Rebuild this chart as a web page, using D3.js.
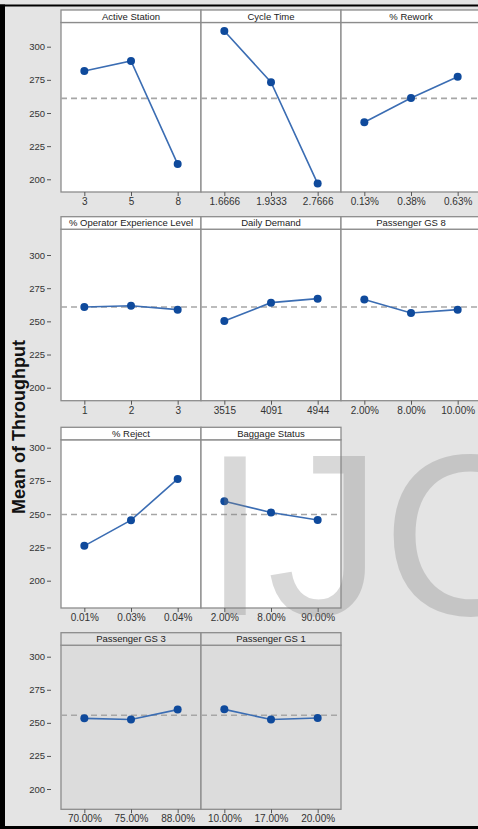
<!DOCTYPE html>
<html>
<head>
<meta charset="utf-8">
<script src="https://cdn.jsdelivr.net/npm/d3@7"></script>
<style>
  body { margin: 0; background: #e4e4e4; }
  svg { display: block; font-family: "Liberation Sans", Arial, sans-serif; }
</style>
</head>
<body>
<svg id="main-svg" width="478" height="829"></svg>
<script>
// data
const factors = ["Active Station", "Cycle Time", "% Rework",
    "% Operator Experience Level", "Daily Demand", "Passenger GS 8",
    "% Reject", "Baggage Status", "Passenger GS 3", "Passenger GS 1"];
const levels = [
    ["3", "5", "8"],
    ["1.6666", "1.9333", "2.7666"],
    ["0.13%", "0.38%", "0.63%"],
    ["1", "2", "3"],
    ["3515", "4091", "4944"],
    ["2.00%", "8.00%", "10.00%"],
    ["0.01%", "0.03%", "0.04%"],
    ["2.00%", "8.00%", "90.00%"],
    ["70.00%", "75.00%", "88.00%"],
    ["10.00%", "17.00%", "20.00%"]
];
const means = [
    [281.7, 289.2, 211.5],
    [311.8, 273.2, 196.8],
    [243.0, 261.3, 277.4],
    [260.8, 261.8, 258.8],
    [250.2, 264.1, 267.1],
    [266.4, 256.3, 258.8],
    [226.2, 245.5, 276.5],
    [259.8, 251.3, 245.6],
    [253.4, 252.5, 260.0],
    [260.2, 252.5, 253.7]
];
const grandMeans = [261.0, 260.8, 249.8, 255.7]; // dashed line, one per row
const yTicks = [200, 225, 250, 275, 300];

// layout of the panels (rows are cropped pieces, so each has its own axis)
const panelRow = [0, 0, 0, 1, 1, 1, 2, 2, 3, 3];
const panelCol = [0, 1, 2, 0, 1, 2, 0, 1, 0, 1];
const rowTop = [10, 216.7, 427.3, 632.7];
const rowBottom = [192, 400.7, 608, 809.3];
const rowY300 = [46.7, 255, 447.7, 656.7];
const rowY200 = [179.3, 387.7, 580.7, 789];
const rowFill = ["#fff", "#fff", "#fff", "#dcdcdc"];
const stripFill = ["#fff", "#fff", "#fff", "#e0e0e0"];
const colLeft = [61, 201, 341];
const panelW = 140;
const stripH = 12.5;

const svg = d3.select("#main-svg");
svg.append("rect").attr("width", 478).attr("height", 829).attr("fill", "#e4e4e4");

const escalasY = rowTop.map((t, r) => d3.scaleLinear()
    .domain([200, 300])
    .range([rowY200[r], rowY300[r]]));

// panels: frame + title strip
factors.forEach((f, i) => {
    const r = panelRow[i];
    const left = colLeft[panelCol[i]];
    const g = svg.append("g");
    g.append("rect")
        .attr("x", left).attr("y", rowTop[r] + stripH)
        .attr("width", panelW).attr("height", rowBottom[r] - rowTop[r] - stripH)
        .attr("fill", rowFill[r])
        .attr("stroke", "#8c8c8c").attr("stroke-width", 1.3);
    g.append("rect")
        .attr("x", left).attr("y", rowTop[r])
        .attr("width", panelW).attr("height", stripH)
        .attr("fill", stripFill[r])
        .attr("stroke", "#8c8c8c").attr("stroke-width", 1.3);
    g.append("text")
        .attr("x", left + panelW / 2).attr("y", rowTop[r] + 9.5)
        .attr("text-anchor", "middle")
        .attr("font-size", 9.5)
        .attr("fill", "#222")
        .text(f);
});

// y axes and dashed grand mean per row
rowTop.forEach((t, r) => {
    const axis = d3.axisLeft(escalasY[r]).tickValues(yTicks).tickSize(4).tickPadding(2);
    const ga = svg.append("g")
        .attr("transform", "translate(51,0)")
        .call(axis);
    ga.select(".domain").remove();
    ga.selectAll("line").attr("stroke", "#555");
    ga.selectAll("text").attr("font-size", 9.5).attr("fill", "#333")
        .attr("font-family", "Liberation Sans, Arial, sans-serif");

    const nCols = d3.max(panelCol.filter((c, i) => panelRow[i] == r)) + 1;
    svg.append("line")
        .attr("x1", colLeft[0]).attr("x2", colLeft[0] + nCols * panelW)
        .attr("y1", escalasY[r](grandMeans[r])).attr("y2", escalasY[r](grandMeans[r]))
        .attr("stroke", "#a6a6a6").attr("stroke-width", 1.6)
        .attr("stroke-dasharray", "6,4");
});

// x axes, lines and points
factors.forEach((f, i) => {
    const r = panelRow[i];
    const left = colLeft[panelCol[i]];
    const escalaX = d3.scalePoint()
        .domain(levels[i])
        .range([left, left + panelW])
        .padding(0.5);
    const y = escalasY[r];

    const gx = svg.append("g")
        .attr("transform", `translate(0, ${rowBottom[r]})`)
        .call(d3.axisBottom(escalaX).tickSize(4).tickPadding(2));
    gx.select(".domain").remove();
    gx.selectAll("line").attr("stroke", "#555");
    gx.selectAll("text").attr("font-size", 10).attr("fill", "#333")
        .attr("font-family", "Liberation Sans, Arial, sans-serif");

    const pts = levels[i].map((l, j) => ({ l: l, v: means[i][j] }));
    svg.append("path")
        .datum(pts)
        .attr("fill", "none")
        .attr("stroke", "#3b6db3")
        .attr("stroke-width", 1.6)
        .attr("d", d3.line().x(d => escalaX(d.l)).y(d => y(d.v)));
    svg.append("g")
        .selectAll("circle")
        .data(pts)
        .join("circle")
        .attr("cx", d => escalaX(d.l))
        .attr("cy", d => y(d.v))
        .attr("r", 4)
        .attr("fill", "#0f4a9c");
});

// axis title
svg.append("text")
    .attr("transform", "translate(25, 427) rotate(-90)")
    .attr("text-anchor", "middle")
    .attr("font-size", 18)
    .attr("font-weight", "bold")
    .attr("fill", "#111")
    .text("Mean of Throughput");

// watermark
svg.append("text")
    .attr("x", 203).attr("y", 615)
    .attr("font-size", 230)
    .attr("fill", "#808080")
    .attr("opacity", 0.3)
    .text("IJC");

// black frame of the screenshot
svg.append("rect").attr("x", 0).attr("y", 4.5).attr("width", 478).attr("height", 2).attr("fill", "#000");
svg.append("rect").attr("x", 0).attr("y", 4.5).attr("width", 5).attr("height", 825).attr("fill", "#000");
svg.append("rect").attr("x", 0).attr("y", 826).attr("width", 478).attr("height", 3).attr("fill", "#000");
</script>
</body>
</html>
